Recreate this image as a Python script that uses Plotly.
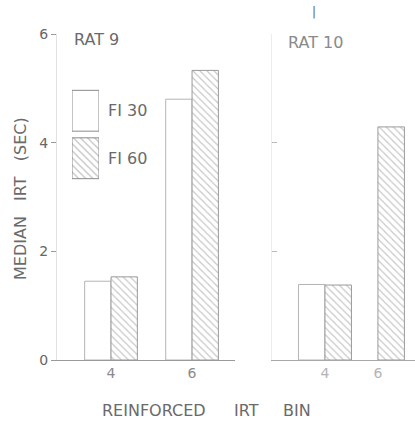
import plotly.graph_objects as go

# ---- data ----
bins = [4, 6]
series_names = ["FI 30", "FI 60"]
rat9_fi30 = [1.45, 4.80]
rat9_fi60 = [1.53, 5.33]
rat10_fi30 = [1.39, None]
rat10_fi60 = [1.38, 4.29]
y_ticks = [0, 2, 4, 6]
y_ticktext = ["0", "2", "4", "6"]
x_ticktext = ["4", "6"]

W, H = 415, 423
ML, MR, MT, MB = 57, 0, 34, 63
PW = W - ML - MR
PH = H - MT - MB


def px_x(p):
    return (p - ML) / PW


def px_y(p):
    return (H - MB - p) / PH


FONT = "DejaVu Sans"
fi30_marker = dict(color="white", line=dict(color="#b4b4b4", width=1))
fi60_marker = dict(color="white", line=dict(color="#9a9a9a", width=1),
                   pattern=dict(shape="\\", fgcolor="#8c8c8c", bgcolor="white",
                                size=5, solidity=0.22))

fig = go.Figure()


def add_panel(xa, ya, fi30, fi60, w):
    fig.add_trace(go.Bar(x=bins, y=fi30, width=w, offset=-w, xaxis=xa, yaxis=ya,
                         marker=fi30_marker, name=series_names[0], showlegend=False))
    fig.add_trace(go.Bar(x=bins, y=fi60, width=w, offset=0, xaxis=xa, yaxis=ya,
                         marker=fi60_marker, name=series_names[1], showlegend=False))


add_panel("x", "y", rat9_fi30, rat9_fi60, 0.65)
add_panel("x2", "y2", rat10_fi30, rat10_fi60, 1.0)

# legend swatches (drawn as bars in a small dedicated axis)
fig.add_trace(go.Bar(orientation="h", y=[series_names[0]], x=[1], width=0.86,
                     xaxis="x3", yaxis="y3", showlegend=False,
                     marker=dict(color="white", line=dict(color="#8a8a8a", width=1))))
fig.add_trace(go.Bar(orientation="h", y=[series_names[1]], x=[1], width=0.86,
                     xaxis="x3", yaxis="y3", showlegend=False,
                     marker=dict(color="white", line=dict(color="#8a8a8a", width=1),
                                 pattern=dict(shape="\\", fgcolor="#7a7a7a", bgcolor="white",
                                              size=5, solidity=0.22))))

axis_common = dict(showgrid=False, zeroline=False)

fig.update_layout(
    width=W, height=H,
    margin=dict(l=ML, r=MR, t=MT, b=MB, pad=0),
    paper_bgcolor="white", plot_bgcolor="white",
    barmode="overlay",
    font=dict(family=FONT, color="#666666"),
    xaxis=dict(domain=[0, px_x(235)], range=[2.667, 7.06], anchor="y",
               tickvals=bins, ticktext=x_ticktext, ticks="",
               showline=True, linecolor="#9a9a9a", linewidth=1,
               tickfont=dict(size=14, color="#8a8a8a"), **axis_common),
    yaxis=dict(domain=[0, 1], range=[0, 6], anchor="x",
               tickvals=y_ticks, ticktext=y_ticktext, ticks="outside", ticklen=5,
               tickcolor="#9a9a9a", showline=True, linecolor="#e2e2e2",
               tickfont=dict(size=14, color="#666666"), **axis_common),
    xaxis2=dict(domain=[px_x(272), 1], range=[2.0, 7.4], anchor="y2",
                tickvals=bins, ticktext=x_ticktext, ticks="",
                showline=True, linecolor="#a8a8a8", linewidth=1,
                tickfont=dict(size=14, color="#b4b4b4"), **axis_common),
    yaxis2=dict(domain=[0, 1], range=[0, 6], anchor="x2",
                tickvals=y_ticks, showticklabels=False, ticks="inside", ticklen=5,
                tickcolor="#b8b8b8", showline=True, linecolor="#ececec",
                **axis_common),
    xaxis3=dict(domain=[px_x(72), px_x(99)], range=[0, 1], anchor="y3",
                visible=False),
    yaxis3=dict(domain=[px_y(182), px_y(87)], anchor="x3", type="category",
                categoryorder="array", categoryarray=[series_names[1], series_names[0]],
                side="right", ticks="", showline=False, ticklabelstandoff=8,
                tickfont=dict(size=16, color="#6a6a6a"), **axis_common),
)

ann_font = dict(family=FONT, size=16, color="#6a6a6a")
nb = "\u00a0"
annotations = [
    dict(text="RAT 9", x=px_x(72), y=px_y(39), xanchor="left", yanchor="middle"),
    dict(text="RAT 10", x=px_x(286), y=px_y(43), xanchor="left", yanchor="middle",
         font=dict(family=FONT, size=16, color="#8a8a8a")),
    dict(text="|", x=px_x(314), y=px_y(12), xanchor="center", yanchor="middle",
         font=dict(family=FONT, size=12, color="#666666")),
    dict(text="MEDIAN" + nb * 3 + "IRT" + nb * 3 + "(SEC)", x=px_x(20), y=px_y(199),
         textangle=-90, xanchor="center", yanchor="middle"),
    dict(text="REINFORCED", x=px_x(154), y=px_y(410), xanchor="center", yanchor="middle"),
    dict(text="IRT", x=px_x(246), y=px_y(410), xanchor="center", yanchor="middle"),
    dict(text="BIN", x=px_x(297), y=px_y(410), xanchor="center", yanchor="middle"),
]
for a in annotations:
    a.setdefault("font", ann_font)
    a.update(xref="paper", yref="paper", showarrow=False)
fig.update_layout(annotations=annotations)

fig.write_html("out.html", config={"displayModeBar": False},
               post_script="document.body.style.margin='0';document.body.style.overflow='hidden';")
